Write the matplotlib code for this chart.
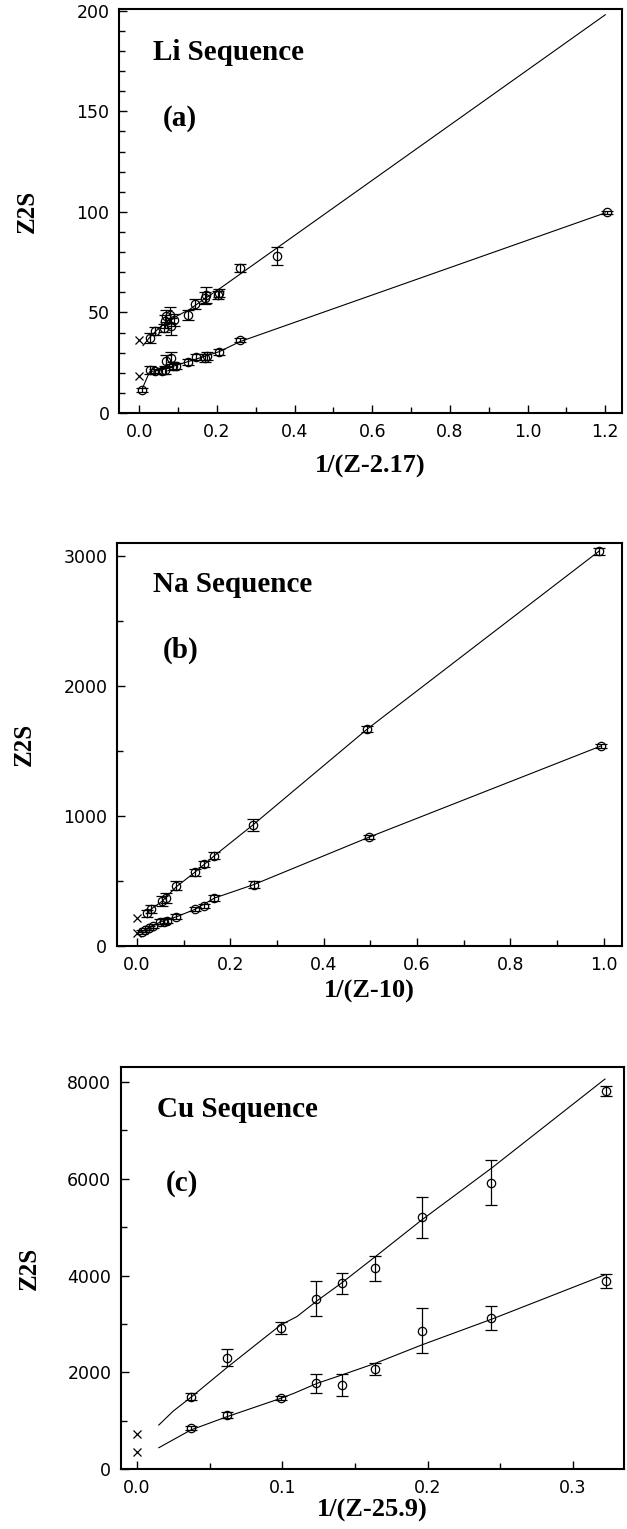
import matplotlib
matplotlib.use("Agg")
import matplotlib.pyplot as plt
from matplotlib.ticker import MultipleLocator

# ---- panel (a): Li sequence ----
li_up_x = [0.029, 0.040, 0.064, 0.066, 0.070, 0.079, 0.081, 0.089, 0.126, 0.143, 0.169, 0.172, 0.204, 0.206, 0.259, 0.354]
li_up_y = [37.3, 40.6, 42.2, 45.5, 48.0, 48.8, 43.0, 46.4, 48.8, 54.3, 57.1, 58.8, 58.8, 59.6, 72.0, 78.1]
li_up_err = [2.5, 2, 2, 3, 3, 4, 4, 3, 2.5, 2.5, 3, 4, 2, 2, 2, 4.5]
li_lo_x = [0.0086, 0.027, 0.040, 0.058, 0.066, 0.070, 0.081, 0.086, 0.094, 0.126, 0.146, 0.169, 0.174, 0.206, 0.259, 1.205]
li_lo_y = [11.6, 21.5, 20.7, 20.7, 21.5, 25.7, 27.3, 23.2, 23.5, 25.3, 27.8, 27.3, 28.5, 30.3, 36.4, 99.7]
li_lo_err = [1, 2, 1, 1.5, 2, 3, 3, 2, 1.5, 1.5, 1.5, 2, 2, 1.5, 1, 0.8]
li_fit_up_x = [0.010, 0.029, 0.05, 0.08, 0.10, 0.13, 0.17, 0.205, 1.2]
li_fit_up_y = [33.5, 38.0, 42.0, 46.5, 48.5, 51.5, 57.0, 61.5, 198.0]
li_fit_lo_x = [0.009, 0.027, 0.06, 0.10, 0.15, 0.206, 0.26, 1.2]
li_fit_lo_y = [12.5, 20.5, 21.5, 24.0, 27.0, 30.5, 35.5, 99.5]
li_cross_y = [36.5, 18.2]

# ---- panel (b): Na sequence ----
na_up_x = [0.021, 0.030, 0.054, 0.061, 0.084, 0.125, 0.143, 0.166, 0.248, 0.494, 0.990]
na_up_y = [250, 283, 348, 368, 464, 567, 631, 696, 928, 1670, 3036]
na_up_err = [30, 30, 40, 40, 35, 25, 25, 30, 45, 25, 25]
na_lo_x = [0.011, 0.018, 0.025, 0.034, 0.050, 0.057, 0.064, 0.084, 0.125, 0.143, 0.166, 0.250, 0.498, 0.995]
na_lo_y = [111, 121, 137, 155, 186, 186, 193, 224, 283, 309, 369, 472, 838, 1539]
na_lo_err = [15, 15, 15, 15, 20, 20, 20, 20, 15, 15, 20, 25, 15, 15]
na_fit_up_x = [0.021, 0.030, 0.054, 0.084, 0.125, 0.166, 0.248, 0.494, 0.990]
na_fit_up_y = [250, 283, 345, 455, 570, 695, 930, 1670, 3036]
na_fit_lo_x = [0.005, 0.018, 0.050, 0.084, 0.125, 0.166, 0.250, 0.498, 0.995]
na_fit_lo_y = [105, 121, 186, 224, 283, 369, 472, 838, 1539]
na_cross_y = [219, 103]

# ---- panel (c): Cu sequence ----
cu_x = [0.0369, 0.0621, 0.0990, 0.1235, 0.1408, 0.1639, 0.1961, 0.2439, 0.3226]
cu_up_y = [1497, 2303, 2910, 3524, 3841, 4145, 5200, 5917, 7814]
cu_up_err = [70, 170, 120, 360, 215, 250, 425, 470, 100]
cu_lo_y = [841, 1117, 1476, 1772, 1738, 2069, 2862, 3117, 3890]
cu_lo_err = [40, 70, 40, 200, 230, 120, 470, 250, 150]
cu_fit_up_x = [0.015, 0.025, 0.037, 0.062, 0.099, 0.110, 0.124, 0.141, 0.164, 0.196, 0.244, 0.322]
cu_fit_up_y = [910, 1200, 1480, 2100, 2980, 3150, 3480, 3850, 4390, 5150, 6220, 8060]
cu_fit_lo_x = [0.015, 0.037, 0.062, 0.099, 0.108, 0.124, 0.141, 0.164, 0.196, 0.244, 0.322]
cu_fit_lo_y = [441, 807, 1083, 1462, 1566, 1772, 1945, 2186, 2566, 3097, 4014]
cu_cross_y = [724, 359]

serif = "Liberation Serif"

fig = plt.figure(figsize=(6.27, 15.29), dpi=100)

panels = [
    dict(rect=[0.190, 0.7299, 0.802, 0.264], xlim=(-0.0515, 1.243), ylim=(0, 200.7),
         xmaj=0.2, xmin=0.1, ymaj=50, ymin=10, xlab_y=-0.105,
         xlabel="1/(Z-2.17)", name="Li Sequence", tag="(a)", tpos=(0.068, 0.894), lpos=(0.0875, 0.730),
         up=(li_up_x, li_up_y, li_up_err), lo=(li_lo_x, li_lo_y, li_lo_err),
         fits=[(li_fit_up_x, li_fit_up_y), (li_fit_lo_x, li_fit_lo_y)], cross=li_cross_y),
    dict(rect=[0.1866, 0.3813, 0.805, 0.2636], xlim=(-0.043, 1.039), ylim=(0, 3100),
         xmaj=0.2, xmin=0.1, ymaj=1000, ymin=500, xlab_y=-0.085,
         xlabel="1/(Z-10)", name="Na Sequence", tag="(b)", tpos=(0.071, 0.896), lpos=(0.091, 0.734),
         up=(na_up_x, na_up_y, na_up_err), lo=(na_lo_x, na_lo_y, na_lo_err),
         fits=[(na_fit_up_x, na_fit_up_y), (na_fit_lo_x, na_fit_lo_y)], cross=na_cross_y),
    dict(rect=[0.193, 0.0392, 0.802, 0.263], xlim=(-0.011, 0.335), ylim=(0, 8310),
         xmaj=0.1, xmin=0.05, ymaj=2000, ymin=1000, xlab_y=-0.075,
         xlabel="1/(Z-25.9)", name="Cu Sequence", tag="(c)", tpos=(0.072, 0.893), lpos=(0.089, 0.711),
         up=(cu_x, cu_up_y, cu_up_err), lo=(cu_x, cu_lo_y, cu_lo_err),
         fits=[(cu_fit_up_x, cu_fit_up_y), (cu_fit_lo_x, cu_fit_lo_y)], cross=cu_cross_y),
]

for p in panels:
    ax = fig.add_axes(p["rect"])
    for fx, fy in p["fits"]:
        ax.plot(fx, fy, color="black", lw=0.8)
    for sx, sy, se in (p["up"], p["lo"]):
        ax.errorbar(sx, sy, yerr=se, fmt="o", mfc="none", mec="black", ms=6, mew=0.9,
                    ecolor="black", elinewidth=0.9, capsize=4.5, capthick=0.9)
    ax.plot([0, 0], p["cross"], ls="none", marker="x", color="black", ms=6, mew=0.9)

    ax.set_xlim(*p["xlim"])
    ax.set_ylim(*p["ylim"])
    ax.xaxis.set_major_locator(MultipleLocator(p["xmaj"]))
    ax.xaxis.set_minor_locator(MultipleLocator(p["xmin"]))
    ax.yaxis.set_major_locator(MultipleLocator(p["ymaj"]))
    ax.yaxis.set_minor_locator(MultipleLocator(p["ymin"]))
    ax.xaxis.set_major_formatter(matplotlib.ticker.FormatStrFormatter("%.1f"))
    ax.tick_params(which="both", direction="in", labelsize=12.5, width=1.0)
    ax.tick_params(which="major", length=6, pad=7)
    ax.tick_params(which="minor", length=4)
    for s in ax.spines.values():
        s.set_linewidth(1.5)

    ax.set_xlabel(p["xlabel"], fontfamily=serif, fontweight="bold", fontsize=19)
    ax.xaxis.set_label_coords(0.5, p["xlab_y"])
    ax.set_ylabel("Z2S", fontfamily=serif, fontweight="bold", fontsize=18)
    ax.yaxis.set_label_coords(-0.16, 0.5)
    ax.text(p["tpos"][0], p["tpos"][1], p["name"], transform=ax.transAxes,
            fontfamily=serif, fontweight="bold", fontsize=21, va="center", ha="left")
    ax.text(p["lpos"][0], p["lpos"][1], p["tag"], transform=ax.transAxes,
            fontfamily=serif, fontweight="bold", fontsize=21, va="center", ha="left")

fig.savefig("out.png", dpi=100)
